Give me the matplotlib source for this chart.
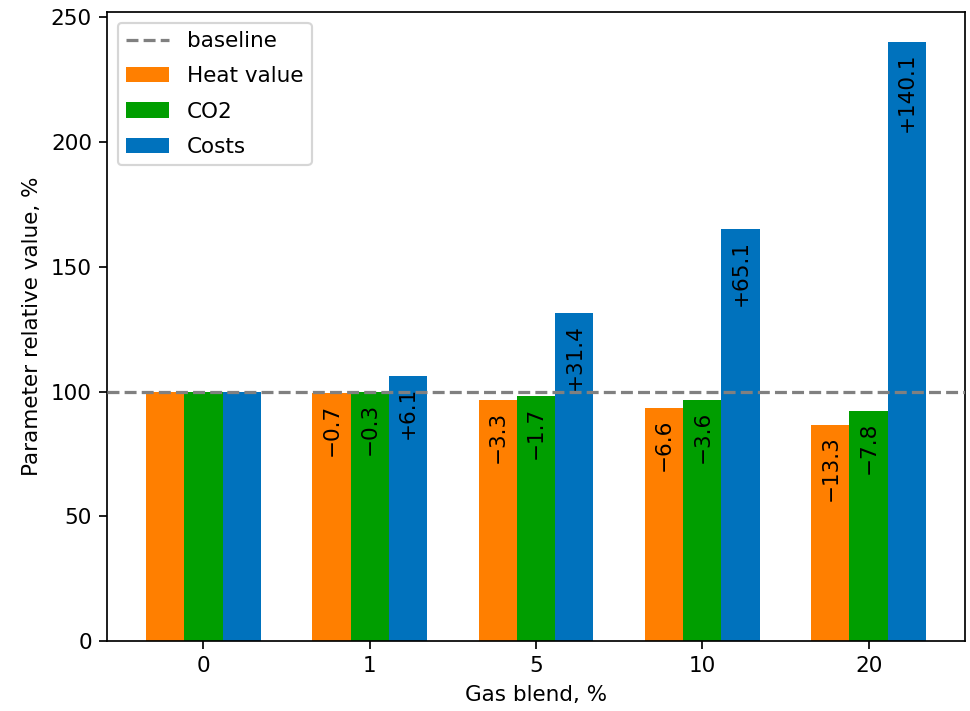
import matplotlib
matplotlib.use("Agg")
import matplotlib.pyplot as plt
import numpy as np

# Data
blends = ['0', '1', '5', '10', '20']
heat_value = [100, 99.3, 96.7, 93.4, 86.7]
co2 = [100, 99.7, 98.3, 96.4, 92.2]
costs = [100, 106.1, 131.4, 165.1, 240.1]

series = [("Heat value", heat_value, "#FF7F00"),
          ("CO2", co2, "#009E00"),
          ("Costs", costs, "#0072BD")]


def fmt_change(v):
    return f"{v - 100:+.1f}".replace("-", "\u2212")


DPI = 155
fig, ax = plt.subplots(figsize=(970 / DPI, 711 / DPI), dpi=DPI)
fig.subplots_adjust(left=107 / 970, right=965 / 970, bottom=70 / 711, top=699 / 711)

x = np.arange(len(blends))
width = 0.23

ax.axhline(100, color="gray", linestyle="--", linewidth=1.5, label="baseline", zorder=3)

for k, (name, vals, color) in enumerate(series):
    pos = x + (k - 1) * width
    ax.bar(pos, vals, width, color=color, label=name)
    # change labels inside the bars, skipping the 0 % group
    for xi, v in zip(pos[1:], vals[1:]):
        ax.annotate(fmt_change(v), (xi, v), xytext=(0, -5), textcoords="offset points",
                    rotation=90, ha="center", va="top", zorder=4)

ax.set_xticks(x)
ax.set_xticklabels(blends)
ax.set_xlabel("Gas blend, %")
ax.set_ylabel("Parameter relative value, %")
ax.legend(loc="upper left", labelspacing=0.7)

fig.savefig("out.png", dpi=DPI)
